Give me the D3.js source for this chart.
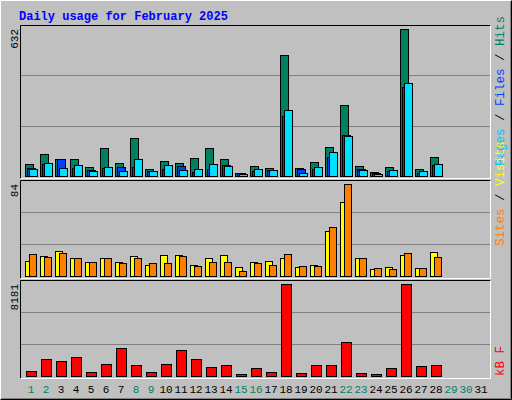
<!DOCTYPE html><html><head><meta charset="utf-8">
<script src="https://cdn.jsdelivr.net/npm/d3@7"></script>
<style>body{margin:0;background:#fff}</style></head><body>
<script>
const days = d3.range(1,32);
const weekend = [1,2,8,9,15,16,22,23,29,30];
const hits  = [53,96,75,75,40,122,57,162,32,66,57,79,122,75,14,44,36,522,36,62,126,307,44,19,40,632,32,83];
const files = [36,53,75,36,27,36,40,40,23,32,44,19,32,49,14,23,27,259,32,32,83,178,32,14,23,384,14,49];
const pages = [32,57,36,49,23,40,23,75,23,49,27,32,53,44,10,32,27,285,14,40,105,173,27,10,27,401,23,53];
const visits= [14,18,23,16,13,16,13,18,10,19,19,10,16,19,8,13,14,16,8,10,41,68,16,6,8,19,7,22];
const sites = [20,17,21,16,13,16,12,16,12,12,18,9,13,13,5,12,10,20,9,9,45,84,16,7,6,21,7,17];
const kbytes= [478,1553,1374,1732,388,1105,2449,1015,388,1105,2269,1553,836,1015,209,747,388,8181,299,1015,1015,2986,299,209,747,8181,926,1015];
const maxLabels = ["632","84","8181"];

const W=512,H=400, font="'Liberation Mono','DejaVu Sans Mono',monospace";
const svg=d3.select("body").append("svg").attr("width",W).attr("height",H);
svg.append("rect").attr("width",W).attr("height",H).attr("fill","#c0c0c0");
svg.append("path").attr("d","M0.5,399.5V0.5H511.5").attr("stroke","#fff").attr("fill","none");
svg.append("path").attr("d","M0.5,399.5H511.5V0.5").attr("stroke","#000").attr("fill","none");
svg.append("path").attr("d","M1.5,398.5H510.5V1.5").attr("stroke","#808080").attr("fill","none");
svg.append("text").attr("x",19).attr("y",20).attr("fill","#0000ff").attr("font-family",font)
  .attr("font-weight","bold").attr("font-size",12).text("Daily usage for February 2025");

const x=d3.scaleLinear().domain([1,32]).range([25,490]);
const panels=[
 {top:25,bot:178,maxY:29,max:632,ly:166,series:[[hits,"#008060",0,8],[files,"#0040ff",2,8],[pages,"#00e0ff",4,8]],
  legend:[["Pages","#00c0ff"],["/","#000"],["Files","#0040ff"],["/","#000"],["Hits","#008060"]]},
 {top:180,bot:278,maxY:184,max:84,ly:246,series:[[visits,"#ffff00",0,7],[sites,"#ff8000",4,7]],
  legend:[["Sites","#ff8000"],["/","#000"],["Visits","#ffff00"]]},
 {top:280,bot:378,maxY:284,max:8181,ly:376,series:[[kbytes,"#ff0000",1,10]],legend:[["kB F","#ff0000"]]}
];
panels.forEach((p,i)=>{
  const base=p.bot-2;
  const y=d3.scaleLinear().domain([0,p.max]).range([base,p.maxY]);
  const g=svg.append("g");
  const h=base-p.top;
  [1,2].forEach(k=>g.append("line").attr("x1",21).attr("x2",490).attr("y1",Math.round(base-h*k/3)+.5).attr("y2",Math.round(base-h*k/3)+.5).attr("stroke","#808080"));
  g.append("path").attr("d",`M20.5,${p.bot+.5}V${p.top+.5}H490.5`).attr("stroke","#000").attr("fill","none");
  g.append("path").attr("d",`M20.5,${p.bot+.5}H490.5V${p.top+.5}`).attr("stroke","#fff").attr("fill","none");
  p.series.forEach(([vals,col,off,w])=>{
    g.selectAll(null).data(vals).enter().append("rect")
     .attr("x",(d,j)=>Math.round(x(j+1))+off+.5).attr("y",d=>Math.round(y(d))+.5)
     .attr("width",w).attr("height",d=>Math.max(0,base-Math.round(y(d))))
     .attr("fill",col).attr("stroke","#000");
  });
  svg.append("text").attr("transform",`translate(18,${p.top+4}) rotate(-90)`).attr("text-anchor","end")
    .attr("font-family",font).attr("font-size",11).attr("fill","#000").text(maxLabels[i]);
  const t=svg.append("text").attr("transform",`translate(504,${p.ly}) rotate(-90)`)
    .attr("font-family",font).attr("font-size",12.5).attr("xml:space","preserve");
  p.legend.forEach(([s,c])=>t.append("tspan").attr("fill",c).text(s==="/"?" / ":s));
});
svg.selectAll(".d").data(days).enter().append("text").attr("x",d=>x(d)+6).attr("y",393)
 .attr("text-anchor","middle").attr("font-family",font).attr("font-size",11)
 .attr("fill",d=>weekend.includes(d)?"#008060":"#000").text(d=>d);
</script></body></html>
